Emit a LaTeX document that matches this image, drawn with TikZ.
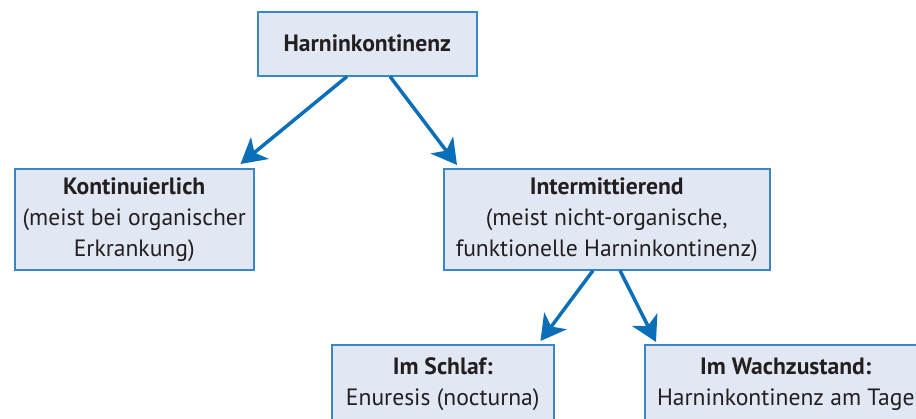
\documentclass[tikz,border=0pt]{standalone}
\usepackage{fontspec}
\setmainfont{PT Sans}
\usetikzlibrary{arrows.meta,calc}
\definecolor{boxfill}{HTML}{E1E8F4}
\definecolor{boxline}{HTML}{3A87C8}
\definecolor{arrowblue}{HTML}{0A6FB8}
\definecolor{textdark}{HTML}{231F20}
\tikzset{
  box/.style={draw=boxline, fill=boxfill, line width=1.5pt, anchor=north west,
    inner sep=0pt, align=center, text=textdark,
    font=\fontsize{23.6}{31}\selectfont},
  arr/.style={draw=arrowblue, line width=3.5pt,
    -{Stealth[length=25pt,width=28pt,inset=7pt]}},
}
\begin{document}
\begin{tikzpicture}[x=1pt,y=-1pt]
\useasboundingbox (0,0) rectangle (916,418);
\clip (0,0) rectangle (916,418);
\node[box, minimum width=219pt, minimum height=64pt] (top) at (257,11) {\textbf{Harninkontinenz}};
\node[box, minimum width=239pt, minimum height=101pt] (left) at (14,168)
  {\textbf{Kontinuierlich}\\(meist bei organischer\\Erkrankung)};
\node[box, minimum width=326pt, minimum height=101pt] (mid) at (443,168)
  {\textbf{Intermittierend}\\(meist nicht-organische,\\funktionelle Harninkontinenz)};
\node[box, minimum width=222pt, minimum height=78pt] (bl) at (331,344)
  {\textbf{Im Schlaf:}\\Enuresis (nocturna)};
\node[box, minimum width=282pt, minimum height=78pt] (br) at (644,344)
  {\textbf{Im Wachzustand:}\\Harninkontinenz am Tage};
\draw[arr] ($(top.south west)+(90,0)$) -- ($(left.north east)+(-14,-4)$);
\draw[arr] ($(top.south west)+(133,0)$) -- ($(mid.north west)+(14,-3)$);
\draw[arr] ($(mid.south west)+(150,0)$) -- ($(bl.north east)+(-14,-3)$);
\draw[arr] ($(mid.south west)+(177,0)$) -- ($(br.north west)+(12,-2)$);
\end{tikzpicture}
\end{document}
